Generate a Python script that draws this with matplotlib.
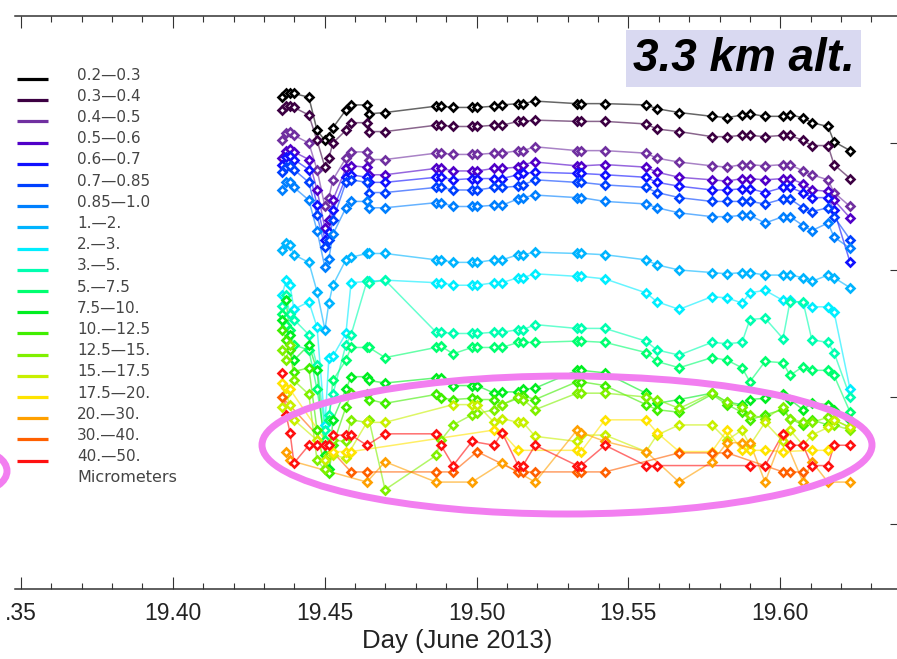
import numpy as np
import matplotlib
matplotlib.use("Agg")
import matplotlib.pyplot as plt
from matplotlib.patches import Ellipse, Rectangle
from matplotlib.ticker import MultipleLocator, NullLocator, FixedLocator

# ---- data -----------------------------------------------------------------
# measurement times (day of June 2013)
day = [19.4360, 19.4373, 19.4386, 19.4399, 19.4448, 19.4475, 19.4501, 19.4514,
       19.4527, 19.4570, 19.4587, 19.4639, 19.4646, 19.4699, 19.4867, 19.4883,
       19.4923, 19.4985, 19.5002, 19.5058, 19.5084, 19.5137, 19.5153, 19.5193,
       19.5331, 19.5344, 19.5423, 19.5558, 19.5594, 19.5667, 19.5775, 19.5825,
       19.5874, 19.5900, 19.5950, 19.6009, 19.6032, 19.6075, 19.6104, 19.6157,
       19.6177, 19.6230]

size_bins = ["0.2\u20140.3", "0.3\u20140.4", "0.4\u20140.5", "0.5\u20140.6",
             "0.6\u20140.7", "0.7\u20140.85", "0.85\u20141.0", "1.\u20142.",
             "2.\u20143.", "3.\u20145.", "5.\u20147.5", "7.5\u201410.",
             "10.\u201412.5", "12.5\u201415.", "15.\u201417.5", "17.5\u201420.",
             "20.\u201430.", "30.\u201440.", "40.\u201450."]

bin_colors = ["#000000", "#3c0042", "#7030a0", "#5000c8", "#1010ff", "#0040ff",
              "#0080ff", "#00b4ff", "#00eeff", "#00ffb0", "#00ff70", "#00ee20",
              "#40ee00", "#80f000", "#c8f000", "#ffe400", "#ffa000", "#ff6000",
              "#ff1010"]

# log10 number concentration per size bin (None = no particles counted)
log_c_0p2 = [3.36, 3.39, 3.39, 3.39, 3.36, 3.10, 3.02, 3.05, 3.12, 3.26, 3.30, 3.30, 3.23, 3.24,
             3.29, 3.29, 3.28, 3.28, 3.28, 3.29, 3.30, 3.31, 3.31, 3.33, 3.31, 3.31, 3.31, 3.30,
             3.27, 3.24, 3.21, 3.20, 3.22, 3.23, 3.21, 3.21, 3.22, 3.20, 3.16, 3.13, 3.01, 2.94]
log_c_0p3 = [3.26, 3.29, 3.29, 3.28, 3.22, 3.02, 2.81, 2.88, 3.00, 3.10, 3.16, 3.16, 3.09, 3.09,
             3.14, 3.14, 3.13, 3.13, 3.13, 3.14, 3.14, 3.17, 3.17, 3.18, 3.17, 3.17, 3.17, 3.15,
             3.11, 3.09, 3.05, 3.05, 3.06, 3.06, 3.05, 3.06, 3.06, 3.02, 2.98, 2.98, 2.83, 2.72]
log_c_0p4 = [3.02, 3.08, 3.09, 3.06, 3.00, 2.79, 2.50, 2.57, 2.71, 2.88, 2.93, 2.93, 2.87, 2.87,
             2.92, 2.92, 2.91, 2.91, 2.91, 2.92, 2.92, 2.94, 2.94, 2.97, 2.94, 2.94, 2.94, 2.92,
             2.88, 2.85, 2.82, 2.81, 2.83, 2.83, 2.82, 2.83, 2.83, 2.78, 2.75, 2.71, 2.61, 2.50]
log_c_0p5 = [2.88, 2.94, 2.95, 2.93, 2.87, 2.63, 2.33, 2.39, 2.55, 2.80, 2.82, 2.81, 2.75, 2.75,
             2.80, 2.80, 2.78, 2.78, 2.78, 2.80, 2.80, 2.81, 2.83, 2.85, 2.82, 2.82, 2.83, 2.81,
             2.77, 2.73, 2.71, 2.70, 2.72, 2.72, 2.71, 2.72, 2.72, 2.68, 2.63, 2.62, 2.55, 2.41]
log_c_0p6 = [2.83, 2.89, 2.90, 2.87, 2.79, 2.51, 2.24, 2.30, 2.47, 2.73, 2.75, 2.73, 2.69, 2.69,
             2.73, 2.73, 2.71, 2.72, 2.72, 2.72, 2.72, 2.75, 2.76, 2.77, 2.76, 2.76, 2.75, 2.73,
             2.69, 2.66, 2.63, 2.63, 2.64, 2.64, 2.61, 2.65, 2.65, 2.61, 2.57, 2.57, 2.47, 2.06]
log_c_0p7 = [2.77, 2.81, 2.82, 2.79, 2.69, 2.43, 2.18, 2.24, 2.39, 2.69, 2.71, 2.69, 2.61, 2.61,
             2.65, 2.65, 2.63, 2.63, 2.63, 2.65, 2.65, 2.66, 2.67, 2.71, 2.69, 2.69, 2.67, 2.65,
             2.61, 2.57, 2.54, 2.54, 2.54, 2.54, 2.52, 2.56, 2.56, 2.49, 2.46, 2.49, 2.42, 2.24]
log_c_0p85 = [2.63, 2.69, 2.69, 2.65, 2.55, 2.31, 2.02, 2.09, 2.28, 2.49, 2.54, 2.54, 2.49, 2.49,
              2.53, 2.53, 2.50, 2.50, 2.50, 2.51, 2.51, 2.56, 2.57, 2.59, 2.57, 2.57, 2.54, 2.52,
              2.49, 2.45, 2.42, 2.42, 2.43, 2.43, 2.37, 2.42, 2.42, 2.35, 2.31, 2.37, 2.26, 2.17]
log_c_1 = [2.16, 2.21, 2.20, 2.12, 2.06, 1.83, 1.53, 1.74, 1.88, 2.08, 2.10, 2.13, 2.13, 2.13,
           2.08, 2.08, 2.06, 2.06, 2.06, 2.08, 2.08, 2.12, 2.12, 2.14, 2.13, 2.13, 2.12, 2.08,
           2.04, 2.00, 1.98, 1.97, 1.98, 1.98, 1.96, 1.96, 1.96, 1.94, 1.91, 1.96, 1.94, 1.86]
log_c_2 = [1.80, 1.92, 1.88, 1.69, 1.75, 1.55, 0.78, 1.31, 1.32, 1.50, 1.90, 1.91, 1.91, 1.92,
           1.90, 1.90, 1.88, 1.88, 1.88, 1.90, 1.90, 1.94, 1.94, 1.97, 1.95, 1.95, 1.93, 1.82,
           1.75, 1.69, 1.79, 1.78, 1.74, 1.82, 1.84, 1.76, 1.76, 1.74, 1.71, 1.71, 1.67, 1.06]
log_c_3 = [1.72, 1.80, 1.65, 1.61, 1.49, 1.25, 0.74, 0.86, 1.02, 1.41, 1.49, 1.91, 1.90, 1.92,
           1.51, 1.51, 1.50, 1.50, 1.50, 1.51, 1.51, 1.53, 1.53, 1.57, 1.54, 1.54, 1.54, 1.44,
           1.37, 1.33, 1.43, 1.42, 1.43, 1.61, 1.62, 1.46, 1.75, 1.75, 1.45, 1.43, 1.35, 1.00]
log_c_5 = [1.65, 1.57, 1.53, 1.41, 1.37, 1.06, 0.66, 0.82, 1.13, 1.29, 1.39, 1.39, 1.39, 1.31,
           1.39, 1.40, 1.34, 1.39, 1.39, 1.39, 1.39, 1.43, 1.43, 1.43, 1.44, 1.44, 1.43, 1.35,
           1.28, 1.23, 1.31, 1.29, 1.23, 1.12, 1.28, 1.27, 1.17, 1.24, 1.21, 1.21, 1.17, 0.88]
log_c_7p5 = [1.61, 1.76, 1.49, 1.29, 1.41, 1.21, 0.54, 0.43, 0.82, 1.06, 1.16, 1.16, 1.13, 1.11,
             1.15, 1.15, 1.09, 1.09, 1.09, 1.03, 1.04, 1.04, 1.06, 1.07, 1.21, 1.21, 1.19, 1.03,
             0.95, 0.98, 1.03, 0.96, 0.94, 0.98, 0.99, 1.02, 0.98, 0.90, 0.95, 0.94, 0.90, 0.82]
log_c_10 = [1.53, 1.45, 1.37, 1.20, 1.23, 0.74, 0.43, 0.40, 0.62, 0.92, 1.03, 1.02, 0.98, 0.95,
            1.02, 0.99, 0.98, 0.99, 0.98, 0.98, 0.94, 0.99, 1.01, 0.98, 1.12, 1.12, 1.09, 0.94,
            0.90, 0.88, 1.02, 0.94, 0.88, 0.82, 0.86, 0.90, 0.83, 0.78, 0.82, 0.78, 0.82, 0.76]
log_c_12p5 = [1.37, 1.29, 1.41, 1.13, 1.02, 0.50, 0.43, 0.54, 0.66, 0.65, 0.82, 0.80, 0.82, 0.27,
              0.54, 0.66, 0.78, 0.86, 0.87, 0.90, 0.94, 1.00, 0.98, 0.90, 1.03, 1.03, 1.03, 1.00,
              0.98, 0.91, 1.03, 0.96, 0.92, 0.86, 0.83, 0.92, 0.83, 0.80, 0.80, 0.84, 0.78, 0.74]
log_c_15 = [0.92, 1.02, 0.94, 0.82, None, 0.66, 0.50, None, 0.54, 0.52, None, 0.80, None, 0.80,
            None, None, 0.94, 0.94, 0.94, 0.80, 0.83, 0.80, 0.80, 0.69, 0.65, 0.70, 0.70, 0.57,
            0.70, 0.78, 0.78, 0.66, 0.74, 0.62, 0.80, 0.65, 0.74, 0.62, 0.70, 0.76, 0.82, 0.76]
log_c_17p5 = [1.11, 1.07, 1.06, None, None, None, None, None, 0.57, 0.57, 0.57, None, None, None,
              None, None, None, None, None, 0.74, 0.72, 0.58, None, None, 0.58, 0.57, 0.82, 0.82,
              0.72, 0.57, 0.57, 0.74, 0.58, 0.58, 0.58, 0.57, None, None, 0.58, 0.58, None, None]
log_c_20 = [None, 0.57, 0.50, None, None, None, None, None, None, None, None, 0.33, None, 0.49,
            0.33, None, None, 0.33, None, None, 0.48, None, None, 0.33, 0.74, 0.72, 0.65, 0.57,
            None, 0.33, 0.49, 0.64, 0.64, 0.64, 0.33, 0.70, None, 0.33, 0.49, 0.33, None, 0.33]
log_c_30 = [1.00, None, None, None, None, None, None, None, None, None, 0.41, 0.41, None, None,
            0.41, None, 0.41, None, 0.57, None, None, 0.41, 0.41, 0.41, 0.41, 0.41, 0.41, None,
            None, 0.56, 0.56, 0.56, None, None, None, 0.41, 0.41, 0.41, None, None, None, None]
log_c_40 = [1.19, 0.86, 0.72, 0.48, 0.62, 0.62, 0.62, 0.62, 0.70, 0.70, 0.70, 0.62, None, 0.71,
            0.71, 0.62, 0.46, 0.65, None, 0.62, 0.72, 0.46, 0.46, 0.62, 0.46, 0.46, 0.62, 0.46,
            0.46, None, None, None, None, 0.46, 0.46, 0.71, 0.62, 0.62, 0.46, 0.46, 0.62, 0.62]

series = [log_c_0p2, log_c_0p3, log_c_0p4, log_c_0p5, log_c_0p6, log_c_0p7, log_c_0p85,
          log_c_1, log_c_2, log_c_3, log_c_5, log_c_7p5, log_c_10, log_c_12p5, log_c_15,
          log_c_17p5, log_c_20, log_c_30, log_c_40]

x_major = [19.35, 19.40, 19.45, 19.50, 19.55, 19.60]
x_labels = [".35", "19.40", "19.45", "19.50", "19.55", "19.60"]
y_major = [1, 10, 100, 1000]

# ---- figure ---------------------------------------------------------------
W, H = 897, 659
fig = plt.figure(figsize=(W / 100, H / 100), dpi=100)
fig.patch.set_facecolor("white")

tick_font = ["Liberation Sans", "DejaVu Sans"]

ax = fig.add_axes([15 / W, 1 - 589 / H, (900 - 15) / W, (589 - 16) / H])
ax.set_xlim(19.34806, 19.63942)
ax.set_yscale("log")
ax.set_ylim(10 ** -0.512, 10 ** 4)

t = np.array(day)
for vals, col in zip(series, bin_colors):
    v = np.array(vals, dtype=float)
    ok = ~np.isnan(v)
    ax.plot(t[ok], 10 ** v[ok], "-", color=col, lw=1.1, alpha=0.6, zorder=2)
    ax.plot(t[ok], 10 ** v[ok], "D", ms=4.0, mfc="white", mec=col, mew=1.9,
            ls="none", zorder=3)

for s in ("left", "right"):
    ax.spines[s].set_visible(False)
for s in ("top", "bottom"):
    ax.spines[s].set_color("#333333")
    ax.spines[s].set_linewidth(1.1)

ax.xaxis.set_major_locator(FixedLocator(x_major))
ax.set_xticklabels(x_labels, family=tick_font, fontsize=16.5, color="#222222")
ax.xaxis.set_minor_locator(MultipleLocator(0.01))
ax.tick_params(axis="x", which="both", direction="in", top=True, bottom=True,
               color="#333333", width=0.8, pad=9)
ax.tick_params(axis="x", which="major", length=8.5)
ax.tick_params(axis="x", which="minor", length=4.5)
ax.set_xlabel("Day (June 2013)", family=tick_font, fontsize=18.5, color="#222222",
              labelpad=3)

ax.yaxis.set_major_locator(FixedLocator(y_major))
ax.yaxis.set_minor_locator(NullLocator())
ax.tick_params(axis="y", which="major", direction="in", left=False, right=True,
               labelleft=False, labelright=False, length=7, width=0.8,
               color="#333333")

# ---- overlay in pixel units: legend, altitude tag, highlight ellipses -----
ov = fig.add_axes([0, 0, 1, 1], zorder=5)
ov.set_xlim(0, W)
ov.set_ylim(H, 0)
ov.axis("off")
ov.patch.set_alpha(0)

for i, (lab, col) in enumerate(zip(size_bins, bin_colors)):
    yl = 75 + i * 21.2
    ov.plot([17, 48], [yl + 4, yl + 4], color=col, lw=2.3, solid_capstyle="butt")
    ov.text(77, yl, lab, fontsize=11, color="#444444", va="center", ha="left")
ov.text(77, 75 + 19 * 21.2, "Micrometers", fontsize=11.5, color="#444444",
        va="center", ha="left")

ov.add_patch(Rectangle((626, 30), 235, 57, facecolor="#d9d9f1", edgecolor="none"))
ov.text(743.5, 59, "3.3 km alt.", fontsize=33, fontweight="bold", fontstyle="italic",
        family=["Liberation Sans", "DejaVu Sans"], color="black", ha="center",
        va="center")

pink = "#f27ef0"
ov.add_patch(Ellipse((567, 445), 610, 138, facecolor="none", edgecolor=pink, lw=5))
ov.add_patch(Ellipse((-23, 471), 60, 40, facecolor="none", edgecolor=pink, lw=5))

fig.savefig("out.png", dpi=100, facecolor="white")
